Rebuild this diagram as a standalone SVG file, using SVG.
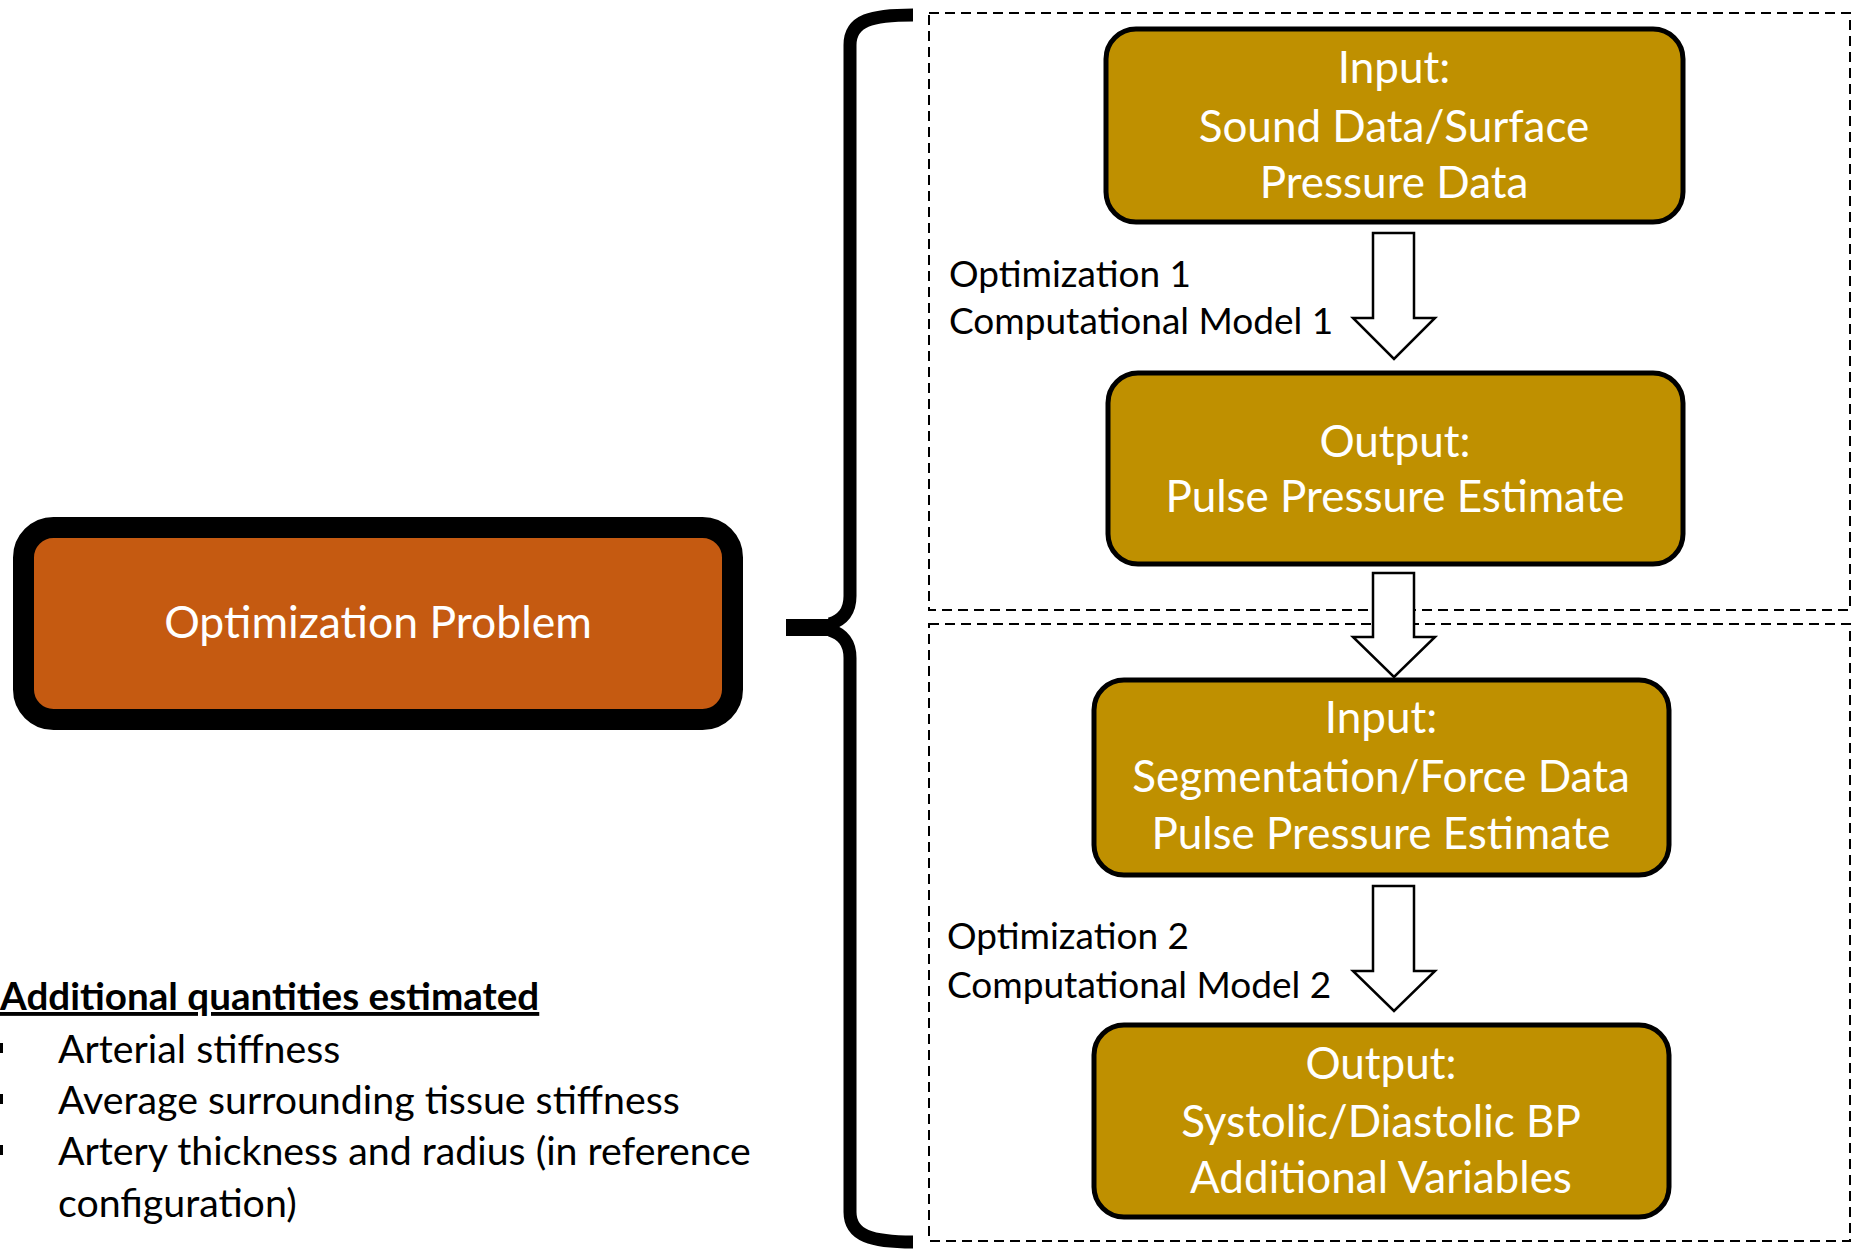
<svg xmlns="http://www.w3.org/2000/svg" width="1875" height="1253" viewBox="0 0 1875 1253">
<style>
.bg{fill:#fff}
.node{fill:#BF9000;stroke:#000;stroke-width:5}
.prob{fill:#C55A11;stroke:#000;stroke-width:21}
.wt{fill:#fff;font-family:Lato,"Liberation Sans",sans-serif;font-size:44px;text-anchor:middle}
.lbl{fill:#000;font-family:Lato,"Liberation Sans",sans-serif;font-size:37px}
.lst{fill:#000;font-family:Lato,"Liberation Sans",sans-serif;font-size:39.3px}
.dash{fill:none;stroke:#000;stroke-width:2;stroke-dasharray:10 6}
.arr{fill:#fff;stroke:#000;stroke-width:2.5;stroke-linejoin:miter}
.brace{fill:none;stroke:#000;stroke-width:13}
</style>
<rect class="bg" x="0" y="0" width="1875" height="1253"/>

<g id="groups">
  <rect id="group1" class="dash" x="929" y="13" width="921" height="597"/>
  <rect id="group2" class="dash" x="929" y="624" width="921" height="617"/>
</g>

<g id="brace">
  <path class="brace" d="M913,15 C872,15 850,20 850,45 L850,596 C850,612 842,620 830,624"/>
  <path class="brace" d="M830,630 C842,634 850,642 850,658 L850,1212 C850,1236 872,1242 913,1242"/>
  <path d="M786,619 L830,619 L838,623 L838,633 L830,636 L786,636 Z" fill="#000"/>
</g>

<g id="node-problem">
  <rect class="prob" x="23.5" y="527.5" width="709" height="192" rx="30" ry="30"/>
  <text class="wt" x="378" y="638" style="font-size:44.5px">Optimization Problem</text>
</g>

<g id="node-input1">
  <rect class="node" x="1106" y="29" width="577" height="193" rx="30" ry="30"/>
  <text class="wt" x="1394" y="83">Input:</text>
  <text class="wt" x="1394" y="142">Sound Data/Surface</text>
  <text class="wt" x="1394" y="198">Pressure Data</text>
</g>

<g id="node-output1">
  <rect class="node" x="1108" y="373" width="575" height="191" rx="30" ry="30"/>
  <text class="wt" x="1395" y="457">Output:</text>
  <text class="wt" x="1395" y="512">Pulse Pressure Estimate</text>
</g>

<g id="node-input2">
  <rect class="node" x="1094" y="680" width="575" height="195" rx="30" ry="30"/>
  <text class="wt" x="1381" y="733">Input:</text>
  <text class="wt" x="1381" y="792">Segmentation/Force Data</text>
  <text class="wt" x="1381" y="849">Pulse Pressure Estimate</text>
</g>

<g id="node-output2">
  <rect class="node" x="1094" y="1025" width="575" height="192" rx="30" ry="30"/>
  <text class="wt" x="1381" y="1079">Output:</text>
  <text class="wt" x="1381" y="1137">Systolic/Diastolic BP</text>
  <text class="wt" x="1381" y="1193">Additional Variables</text>
</g>

<g id="connectors">
  <polygon class="arr" points="1373,233 1414,233 1414,318 1435,318 1394,359 1353,318 1373,318"/>
  <polygon class="arr" points="1373,573 1414,573 1414,637 1435,637 1394,677 1353,637 1373,637"/>
  <polygon class="arr" points="1373,886 1414,886 1414,971 1435,971 1394,1011 1353,971 1373,971"/>
  <text class="lbl" x="949" y="287">Optimization 1</text>
  <text class="lbl" x="949" y="334">Computational Model 1</text>
  <text class="lbl" x="947" y="949">Optimization 2</text>
  <text class="lbl" x="947" y="998">Computational Model 2</text>
</g>

<g id="notes">
  <text class="lst" x="0" y="1010" font-weight="bold" text-decoration="underline" style="font-size:38.6px">Additional quantities estimated</text>
  <rect x="-7" y="1043" width="10" height="10" fill="#000"/>
  <rect x="-7" y="1094" width="10" height="10" fill="#000"/>
  <rect x="-7" y="1145" width="10" height="10" fill="#000"/>
  <text class="lst" x="58" y="1063">Arterial stiffness</text>
  <text class="lst" x="58" y="1114">Average surrounding tissue stiffness</text>
  <text class="lst" x="58" y="1165">Artery thickness and radius (in reference</text>
  <text class="lst" x="58" y="1217">configuration)</text>
</g>
</svg>
